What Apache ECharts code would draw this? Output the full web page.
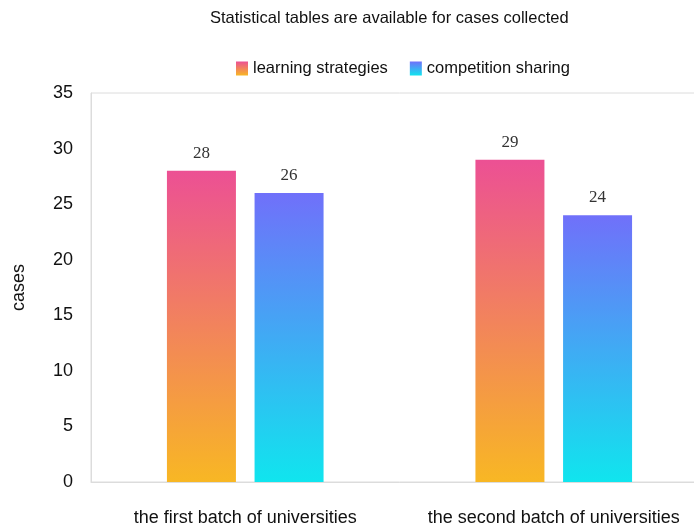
<!DOCTYPE html>
<html>
<head>
<meta charset="utf-8">
<script src="https://cdn.jsdelivr.net/npm/echarts@6/dist/echarts.min.js"></script>
<style>
html,body{margin:0;padding:0;background:#fff;overflow:hidden;}
#main{width:720px;height:527px;}
</style>
</head>
<body>
<div id="main"></div>
<script>
var categories = ['the first batch of universities', 'the second batch of universities'];
var seriesNames = ['learning strategies', 'competition sharing'];
var learningStrategies = [28, 29];
var competitionSharing = [26, 24];
var yTicks = [0, 5, 10, 15, 20, 25, 30, 35];

function grad(top, bottom) {
  return new echarts.graphic.LinearGradient(0, 0, 0, 1, [
    {offset: 0, color: top}, {offset: 1, color: bottom}
  ]);
}

var chart = echarts.init(document.getElementById('main'));
var labelStyle = {show: true, position: 'top', distance: 9, color: '#333', fontFamily: 'Liberation Serif', fontSize: 17};
chart.setOption({
  animation: false,
  title: {
    text: 'Statistical tables are available for cases collected',
    left: 210, top: 10, padding: 0,
    textStyle: {fontFamily: 'Liberation Sans', fontSize: 16.5, fontWeight: 'normal', color: '#111'}
  },
  legend: {
    data: seriesNames,
    left: 236, top: 60, padding: 0,
    icon: 'rect',
    itemWidth: 12, itemHeight: 14, itemGap: 22,
    textStyle: {fontFamily: 'Liberation Sans', fontSize: 16.5, color: '#111'}
  },
  grid: {
    left: 91, top: 93, width: 617, height: 390,
    show: true, borderColor: '#dcdcdc', borderWidth: 1
  },
  xAxis: {
    type: 'category',
    data: categories,
    axisLine: {show: true, lineStyle: {color: '#dcdcdc'}},
    axisTick: {show: false},
    axisLabel: {interval: 0, margin: 27, fontFamily: 'Liberation Sans', fontSize: 18, color: '#111'}
  },
  yAxis: {
    type: 'value',
    min: yTicks[0], max: yTicks[yTicks.length - 1], interval: 5,
    name: 'cases', nameLocation: 'middle', nameGap: 63,
    nameTextStyle: {fontFamily: 'Liberation Sans', fontSize: 18, color: '#111'},
    axisLine: {show: true, lineStyle: {color: '#dcdcdc'}},
    axisTick: {show: false},
    splitLine: {show: false},
    axisLabel: {margin: 18, fontFamily: 'Liberation Sans', fontSize: 18, color: '#111'}
  },
  series: [
    {
      name: seriesNames[0], type: 'bar', data: learningStrategies,
      barWidth: 69, barGap: '27%',
      itemStyle: {color: grad('#EC5094', '#F8B724')},
      label: labelStyle
    },
    {
      name: seriesNames[1], type: 'bar', data: competitionSharing,
      barWidth: 69,
      itemStyle: {color: grad('#7070FA', '#10E5EE')},
      label: labelStyle
    }
  ]
});
</script>
</body>
</html>
